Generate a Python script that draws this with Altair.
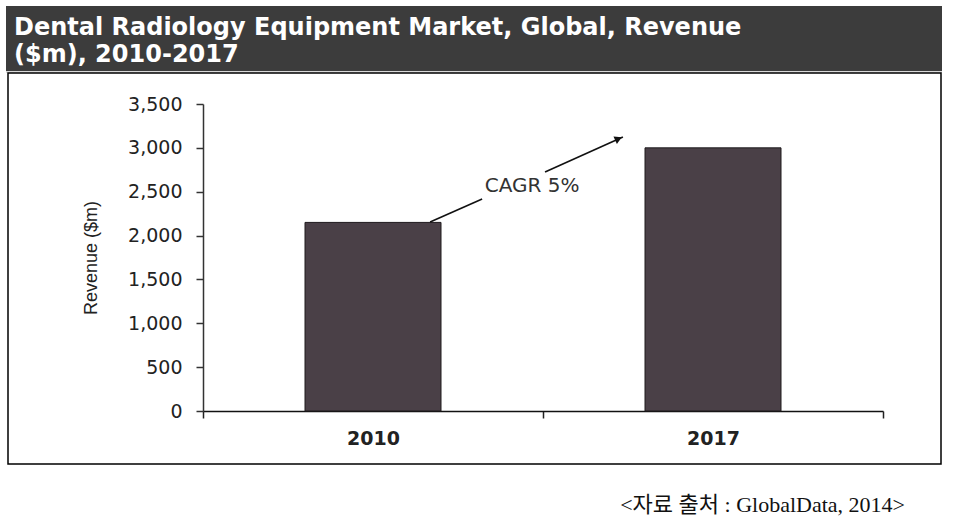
import altair as alt
import pandas as pd

# ---- data ----
years = ["2010", "2017"]
revenue = [2150, 3000]
y_ticks = [0, 500, 1000, 1500, 2000, 2500, 3000, 3500]

# CAGR arrow (x in category units across the axis, y in $m)
arrow_x = [0.668, 0.821, 1.006, 1.235]
arrow_v = [2155, 2417, 2725, 3124]
arrow_seg = ["a", "a", "b", "b"]
head_x = [1.222]
head_v = [3103]
cagr_label = ["CAGR 5%"]
cagr_x = [0.968]
cagr_v = [2560]

title_text = "Dental Radiology Equipment Market, Global, Revenue\n($m), 2010-2017"
source_text = "<자료 출처 : GlobalData, 2014>"

W, H = 680, 307

bars_df = pd.DataFrame({"year": years, "value": revenue})
arrow_df = pd.DataFrame({"ax": arrow_x, "value": arrow_v, "seg": arrow_seg})
head_df = pd.DataFrame({"ax": head_x, "value": head_v})
cagr_df = pd.DataFrame({"ax": cagr_x, "value": cagr_v, "t": cagr_label})
one = pd.DataFrame({"t": [title_text], "s": [source_text]})

yscale = alt.Scale(domain=[0, 3500], nice=False)
xq = alt.Scale(domain=[0, 2], nice=False)

yaxis = alt.Axis(values=y_ticks, format=",.0f", tickSize=7, tickColor="#333",
                 tickWidth=1.5, domainColor="#333", domainWidth=1.5, grid=False,
                 labelFont="DejaVu Sans", labelFontSize=19, labelColor="#222",
                 labelPadding=14, title="Revenue ($m)", titleFont="Liberation Sans",
                 titleFontSize=18, titleFontWeight="normal", titleColor="#222",
                 titleX=-112, titleY=H / 2, titleAngle=270, titleAlign="center",
                 titleBaseline="middle")


def yenc():
    return alt.Y("value:Q", scale=yscale, axis=yaxis, title="Revenue ($m)")


bars = alt.Chart(bars_df).mark_bar(
    width=alt.RelativeBandSize(0.4), fill="#4a4047", stroke="#1e1a1d", strokeWidth=1
).encode(
    x=alt.X("year:N", sort=years, scale=alt.Scale(paddingInner=0, paddingOuter=0),
            axis=alt.Axis(title="", labelAngle=0, tickBand="extent", tickSize=7,
                          tickColor="#222", tickWidth=1.5, domainColor="#111",
                          domainWidth=1.5, labelFont="DejaVu Sans", labelFontWeight="bold",
                          labelFontSize=19, labelColor="#222", labelPadding=11)),
    y=yenc(),
)

arrow_line = alt.Chart(arrow_df).mark_line(color="#111", strokeWidth=1.6).encode(
    x=alt.X("ax:Q", scale=xq, axis=None),
    y=yenc(),
    detail="seg:N",
)
arrow_head = alt.Chart(head_df).mark_point(
    shape="triangle-right", filled=True, size=70, angle=336, color="#111", opacity=1
).encode(
    x=alt.X("ax:Q", scale=xq, axis=None),
    y=yenc(),
)
cagr = alt.Chart(cagr_df).mark_text(
    font="DejaVu Sans", fontSize=20, color="#333", align="center", baseline="middle"
).encode(
    x=alt.X("ax:Q", scale=xq, axis=None),
    y=yenc(),
    text="t:N",
)
annotation = alt.layer(arrow_line, arrow_head, cagr)

title_bar = alt.Chart(one).mark_rect(fill="#3c3c3c").encode(
    x=alt.value(-197), x2=alt.value(739), y=alt.value(-98), y2=alt.value(-33)
)
title_shadow = alt.Chart(one).mark_rect(fill="#d8d8d8").encode(
    x=alt.value(-197), x2=alt.value(739), y=alt.value(-33), y2=alt.value(-31)
)
frame = alt.Chart(one).mark_rect(fill="transparent", stroke="#000", strokeWidth=1.5).encode(
    x=alt.value(-195), x2=alt.value(738), y=alt.value(-31), y2=alt.value(360)
)
title = alt.Chart(one).mark_text(
    font="DejaVu Sans", fontWeight="bold", fontSize=24, color="white", align="left",
    baseline="alphabetic", lineBreak="\n", lineHeight=27
).encode(x=alt.value(-189), y=alt.value(-69), text="t:N")
source = alt.Chart(one).mark_text(
    font="Liberation Serif, Noto Sans CJK KR", fontSize=22, color="#111", align="right",
    baseline="alphabetic"
).encode(x=alt.value(702), y=alt.value(408), text="s:N")

chart = alt.layer(
    title_bar, title_shadow, frame, bars, annotation, title, source
).resolve_scale(x="independent").properties(
    width=W, height=H,
    padding={"left": 203, "top": 104, "right": 70, "bottom": 109},
    autosize=alt.AutoSizeParams(type="none"),
    background="white",
).configure_view(strokeWidth=0)

chart.save("out.html", embed_options={"renderer": "svg", "actions": False})
